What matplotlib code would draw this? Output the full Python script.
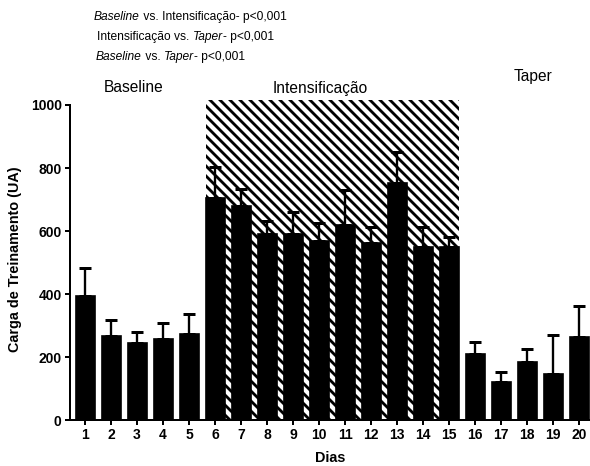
import matplotlib
matplotlib.use("Agg")
import matplotlib.pyplot as plt
import numpy as np

days = list(range(1, 21))
means = [394, 268, 243, 258, 273,
         704, 679, 590, 590, 569, 619, 563, 753, 548, 550,
         208, 122, 185, 145, 262]
err_top = [484, 317, 278, 307, 335,
           802, 732, 632, 661, 624, 730, 612, 852, 614, 582,
           249, 153, 225, 270, 362]
errs = [t - m for t, m in zip(err_top, means)]
phase_labels = ["Baseline", "Intensificação", "Taper"]

DPI = 120
plt.rcParams['font.family'] = ['Liberation Sans', 'DejaVu Sans']
plt.rcParams['hatch.linewidth'] = 1.7

fig = plt.figure(figsize=(590 / DPI, 466 / DPI), dpi=DPI)
ax = fig.add_axes([0.1186, 0.0987, 0.8814, 0.6895])

w = 0.73
x = np.array(days)

# hatched Intensificação block
x0 = x[5] - w / 2
x1 = x[14] + w / 2
ax.fill_between([x0, x1], 0, 1015, facecolor='white', edgecolor='black',
                hatch='\\\\\\\\', linewidth=0, zorder=1)

ax.bar(x, means, width=w, color='black', edgecolor='black', zorder=3)
ax.errorbar(x, means, yerr=[np.zeros(len(errs)), errs], fmt='none',
            ecolor='black', elinewidth=1.4, capsize=3.5, capthick=1.8, zorder=2)

ax.set_xlim(0.42, 20.42)
ax.set_ylim(0, 1020)
ax.set_yticks([0, 200, 400, 600, 800, 1000])
ax.set_xticks(days)
ax.set_xticklabels([str(d) for d in days], fontsize=8.3, fontweight='bold')
for lab in ax.get_yticklabels():
    lab.set_fontsize(8.3)
    lab.set_fontweight('bold')
ax.spines['top'].set_visible(False)
ax.spines['right'].set_visible(False)
ax.spines['left'].set_bounds(0, 1000)
ax.spines['left'].set_linewidth(1.2)
ax.spines['bottom'].set_linewidth(1.2)
ax.tick_params(axis='both', direction='out', length=3, width=1.2, pad=2)

ax.set_ylabel("Carga de Treinamento (UA)", fontsize=8.6, fontweight='bold', labelpad=5)
ax.set_xlabel("Dias", fontsize=8.6, fontweight='bold', labelpad=5)

# phase labels
fig.text(134 / 590, 1 - 88 / 466, phase_labels[0], fontsize=9.3, ha='center', va='center')
fig.text(320 / 590, 1 - 88 / 466, phase_labels[1], fontsize=9.3, ha='center', va='center')
fig.text(533 / 590, 1 - 76 / 466, phase_labels[2], fontsize=9.3, ha='center', va='center')

# statistics annotations
fs = 7.2
renderer = fig.canvas.get_renderer()
def mixed(xpix, ypix, parts):
    xcur = xpix / 590
    for txt, style in parts:
        tt = fig.text(xcur, 1 - ypix / 466, txt, fontsize=fs, style=style, va='center')
        bb = tt.get_window_extent(renderer=renderer)
        xcur += bb.width / fig.bbox.width

mixed(94, 17, [("Baseline", 'italic'), (" vs. Intensificação- p<0,001", 'normal')])
mixed(97, 37, [("Intensificação vs. ", 'normal'), ("Taper", 'italic'), ("- p<0,001", 'normal')])
mixed(96, 57, [("Baseline", 'italic'), (" vs. ", 'normal'), ("Taper", 'italic'), ("- p<0,001", 'normal')])

fig.savefig("out.png", dpi=DPI)
